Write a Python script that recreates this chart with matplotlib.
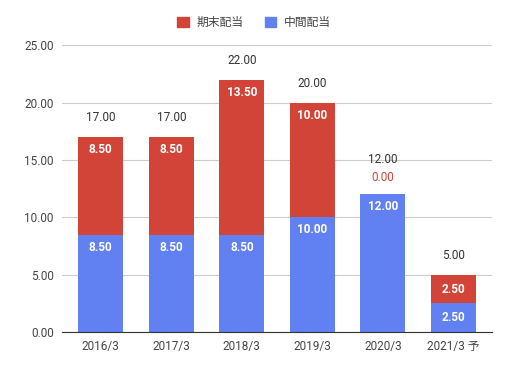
import matplotlib
matplotlib.use("Agg")
import matplotlib.pyplot as plt
from matplotlib.patches import Patch

plt.rcParams['font.family'] = ['Roboto', 'Noto Sans CJK JP', 'DejaVu Sans']

years = ['2016/3', '2017/3', '2018/3', '2019/3', '2020/3', '2021/3 予']
interim = [8.5, 8.5, 8.5, 10.0, 12.0, 2.5]     # 中間配当
year_end = [8.5, 8.5, 13.5, 10.0, 0.0, 2.5]    # 期末配当
totals = [17.0, 17.0, 22.0, 20.0, 12.0, 5.0]

red = '#d24437'
blue = '#6180f2'
grey = '#444444'

fig = plt.figure(figsize=(5.08, 3.67), dpi=100)
ax = fig.add_axes([0.122, 0.095, 0.847, 0.782])

x = list(range(len(years)))
w = 0.64
ax.bar(x, interim, w, color=blue, zorder=2)
ax.bar(x, year_end, w, bottom=interim, color=red, zorder=2)

ax.set_ylim(0, 25)
ax.set_xlim(-0.55, len(years) - 0.45)
ax.set_yticks([0, 5, 10, 15, 20, 25])
ax.set_yticklabels(['%.2f' % v for v in [0, 5, 10, 15, 20, 25]])
ax.set_xticks(x)
ax.set_xticklabels(years)
ax.tick_params(length=0, labelsize=8.5, colors=grey, pad=6)
ax.grid(axis='y', color='#cccccc', lw=0.8, zorder=0)
for s in ['top', 'right', 'left']:
    ax.spines[s].set_visible(False)
ax.spines['bottom'].set_color('#333333')
ax.spines['bottom'].set_zorder(3)

fs = 8.5
for i in x:
    top = interim[i] + year_end[i]
    # segment labels
    if interim[i] > 4:
        ax.annotate('%.2f' % interim[i], (i, interim[i]), xytext=(0, -9),
                    textcoords='offset points', ha='center', va='center',
                    color='white', fontsize=fs, fontweight='bold', zorder=4)
    else:
        ax.text(i, interim[i] / 2, '%.2f' % interim[i], ha='center', va='center',
                color='white', fontsize=fs, fontweight='bold', zorder=4)
    if year_end[i] > 4:
        ax.annotate('%.2f' % year_end[i], (i, top), xytext=(0, -9),
                    textcoords='offset points', ha='center', va='center',
                    color='white', fontsize=fs, fontweight='bold', zorder=4)
    elif year_end[i] > 0:
        ax.text(i, interim[i] + year_end[i] / 2, '%.2f' % year_end[i], ha='center',
                va='center', color='white', fontsize=fs, fontweight='bold', zorder=4)
    else:
        ax.annotate('%.2f' % year_end[i], (i, top), xytext=(0, 12),
                    textcoords='offset points', ha='center', va='center',
                    color=red, fontsize=fs, zorder=4)
    # totals
    off = 25 if year_end[i] == 0 else 14
    ax.annotate('%.2f' % totals[i], (i, top), xytext=(0, off),
                textcoords='offset points', ha='center', va='center',
                color='#333333', fontsize=fs, zorder=4)

handles = [Patch(color=red, label='期末配当'), Patch(color=blue, label='中間配当')]
fig.legend(handles=handles, loc='upper center', bbox_to_anchor=(0.5, 0.985), ncol=2,
           frameon=False, fontsize=8.5, handlelength=1.0, handleheight=1.0,
           columnspacing=1.8, handletextpad=0.6, labelcolor=grey)

fig.savefig('out.png', dpi=100)
